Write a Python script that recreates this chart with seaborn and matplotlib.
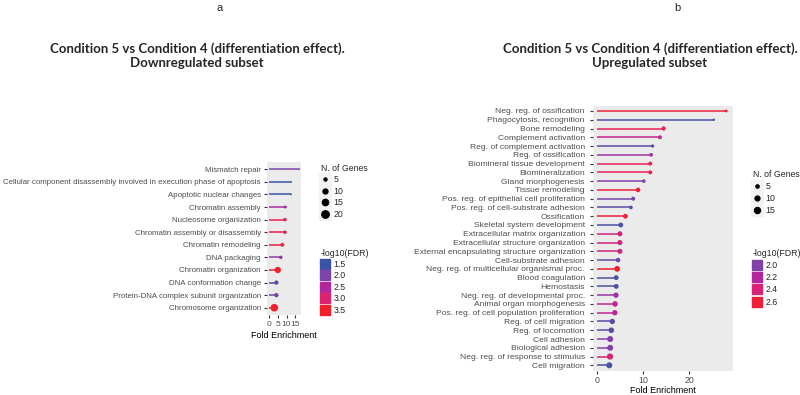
import numpy as np
import pandas as pd
import matplotlib
matplotlib.use("Agg")
import matplotlib.pyplot as plt
import seaborn as sns
from matplotlib.colors import LinearSegmentedColormap, Normalize
from matplotlib.lines import Line2D

# Panel a: downregulated subset (top to bottom)
down_terms = [
    "Mismatch repair",
    "Cellular component disassembly involved in execution phase of apoptosis",
    "Apoptotic nuclear changes",
    "Chromatin assembly",
    "Nucleosome organization",
    "Chromatin assembly or disassembly",
    "Chromatin remodeling",
    "DNA packaging",
    "Chromatin organization",
    "DNA conformation change",
    "Protein-DNA complex subunit organization",
    "Chromosome organization",
]
down_fold = [17.3, 12.6, 12.6, 9.3, 9.1, 9.1, 7.6, 6.7, 5.0, 4.2, 4.2, 3.0]
down_genes = [3, 3, 3, 5, 6, 6, 7, 6, 15, 8, 8, 21]
down_fdr = [2.0, 1.5, 1.5, 2.4, 3.2, 3.2, 3.3, 2.2, 3.5, 1.8, 1.9, 3.5]

# Panel b: upregulated subset (top to bottom)
up_terms = [
    "Neg. reg. of ossification",
    "Phagocytosis, recognition",
    "Bone remodeling",
    "Complement activation",
    "Reg. of complement activation",
    "Reg. of ossification",
    "Biomineral tissue development",
    "Biomineralization",
    "Gland morphogenesis",
    "Tissue remodeling",
    "Pos. reg. of epithelial cell proliferation",
    "Pos. reg. of cell-substrate adhesion",
    "Ossification",
    "Skeletal system development",
    "Extracellular matrix organization",
    "Extracellular structure organization",
    "External encapsulating structure organization",
    "Cell-substrate adhesion",
    "Neg. reg. of multicellular organismal proc.",
    "Blood coagulation",
    "Hemostasis",
    "Neg. reg. of developmental proc.",
    "Animal organ morphogenesis",
    "Pos. reg. of cell population proliferation",
    "Reg. of cell migration",
    "Reg. of locomotion",
    "Cell adhesion",
    "Biological adhesion",
    "Neg. reg. of response to stimulus",
    "Cell migration",
]
up_fold = [28.0, 25.3, 14.4, 13.6, 12.0, 11.7, 11.5, 11.5, 10.1, 8.85, 7.8, 7.3,
           6.1, 5.1, 4.9, 4.9, 4.9, 4.5, 4.3, 4.1, 4.1, 4.05, 3.85, 3.8,
           3.26, 3.04, 2.8, 2.8, 2.76, 2.6]
up_genes = [4, 3, 8, 7, 5, 6, 7, 7, 6, 9, 7, 6, 10, 10, 11, 11, 11, 9, 14,
            10, 10, 12, 13, 12, 12, 13, 15, 15, 16, 15]
up_fdr = [2.6, 1.8, 2.5, 2.3, 1.85, 2.1, 2.5, 2.5, 2.0, 2.6, 1.95, 1.85, 2.6,
          1.8, 2.35, 2.35, 2.35, 1.9, 2.65, 1.8, 1.8, 2.1, 2.3, 2.25, 1.85,
          1.85, 2.0, 2.0, 2.4, 1.8]

cmap = LinearSegmentedColormap.from_list(
    "fdr", ["#3B53A4", "#7B44A8", "#B2279E", "#DE2271", "#F2202A"])

sns.set_style("white")
plt.rcParams["font.family"] = ["Liberation Sans", "DejaVu Sans"]

fig = plt.figure(figsize=(8, 3.95), dpi=100)
W, H = 800, 395


def box(x0, y0, x1, y1):
    return [x0 / W, 1 - y1 / H, (x1 - x0) / W, (y1 - y0) / H]


def lollipop(ax, terms, fold, genes, fdr, norm, size_norm, sizes, xlim, ticks,
             tick_fs, label_fs, label_pad, xlabel_pad):
    df = pd.DataFrame({"term": terms, "fold": fold, "genes": genes, "fdr": fdr})
    ax.set_facecolor("#EBEBEB")
    sns.scatterplot(data=df, x="fold", y="term", hue="fdr", palette=cmap,
                    hue_norm=norm, size="genes", sizes=sizes, size_norm=size_norm,
                    edgecolor="none", linewidth=0, legend=False, ax=ax, zorder=3)
    ax.hlines(df["term"], 0, df["fold"], colors=cmap(norm(df["fdr"])),
              lw=1.1, zorder=2)
    ax.set_ylim(len(terms) - 0.4, -0.6)
    ax.set_xlim(*xlim)
    ax.set_xticks(ticks)
    ax.set_ylabel("")
    for s in ax.spines.values():
        s.set_visible(False)
    ax.tick_params(axis="both", length=2.5, width=0.8, color="#333333",
                   labelcolor="#4D4D4D", labelsize=tick_fs, pad=1.5,
                   left=True, bottom=True)
    ax.tick_params(axis="y", labelsize=label_fs, pad=label_pad)
    ax.set_xlabel("Fold Enrichment", fontsize=6.5, color="black", labelpad=xlabel_pad)


def add_legends(ax, size_vals, size_norm, sizes, fdr_vals, norm, xy_size, xy_col, spacing):
    def area(v):
        return sizes[0] + (v - size_norm[0]) / (size_norm[1] - size_norm[0]) * (sizes[1] - sizes[0])

    hs = [(Line2D([], [], marker="s", ms=8, color="#F2F2F2", ls=""),
           Line2D([], [], marker="o", ms=np.sqrt(area(v)), color="black", ls=""))
          for v in size_vals]
    leg1 = ax.legend(hs, [str(v) for v in size_vals], title="N. of Genes",
                     loc="upper left", bbox_to_anchor=(xy_size[0] / W, 1 - xy_size[1] / H),
                     bbox_transform=fig.transFigure, frameon=False, fontsize=6.3,
                     title_fontsize=6.3, handlelength=0.9, handletextpad=0.5,
                     labelspacing=spacing, borderpad=0, borderaxespad=0,
                     alignment="left")
    ax.add_artist(leg1)
    hc = [Line2D([], [], marker="s", ms=7, color=cmap(norm(v)), ls="") for v in fdr_vals]
    ax.legend(hc, [f"{v:.1f}" for v in fdr_vals], title="-log10(FDR)",
              loc="upper left", bbox_to_anchor=(xy_col[0] / W, 1 - xy_col[1] / H),
              bbox_transform=fig.transFigure, frameon=False, fontsize=6.3,
              title_fontsize=6.3, handlelength=0.9, handletextpad=0.5,
              labelspacing=spacing, borderpad=0, borderaxespad=0,
              alignment="left")


# panel a
axL = fig.add_axes(box(267.3, 161.7, 300.7, 315.3))
normL = Normalize(1.5, 3.5)
lollipop(axL, down_terms, down_fold, down_genes, down_fdr, normL,
         (3, 21), (1.5, 30), (-1.0, 18.1), [0, 5, 10, 15], 6.0, 5.68, 2.2, 2)
add_legends(axL, [5, 10, 15, 20], (3, 21), (1.5, 30), [1.5, 2.0, 2.5, 3.0, 3.5],
            normL, (321, 164), (321, 248.5), 0.28)

# panel b
axR = fig.add_axes(box(592.7, 105.7, 732.7, 370.6))
normR = Normalize(1.75, 2.65)
lollipop(axR, up_terms, up_fold, up_genes, up_fdr, normR,
         (3, 16), (3, 20), (-1.0, 29.4), [0, 10, 20], 6.3, 6.1, 3.2, 0.5)
add_legends(axR, [5, 10, 15], (3, 16), (3, 20), [2.0, 2.2, 2.4, 2.6],
            normR, (753, 170), (753, 249), 0.36)

# panel letters and titles
fig.text(220 / W, 1 - 8 / H, "a", ha="center", va="center", fontsize=8)
fig.text(677 / W, 1 - 8 / H, "b", ha="center", va="center", fontsize=8)
fig.text(197 / W, 1 - 55.5 / H,
         "Condition 5 vs Condition 4 (differentiation effect).\nDownregulated subset",
         ha="center", va="center", fontsize=9.5, fontweight="bold",
         family=["Lato", "DejaVu Sans"], linespacing=1.25)
fig.text(650 / W, 1 - 55.5 / H,
         "Condition 5 vs Condition 4 (differentiation effect).\nUpregulated subset",
         ha="center", va="center", fontsize=9.5, fontweight="bold",
         family=["Lato", "DejaVu Sans"], linespacing=1.25)

fig.savefig("out.png", dpi=100)
